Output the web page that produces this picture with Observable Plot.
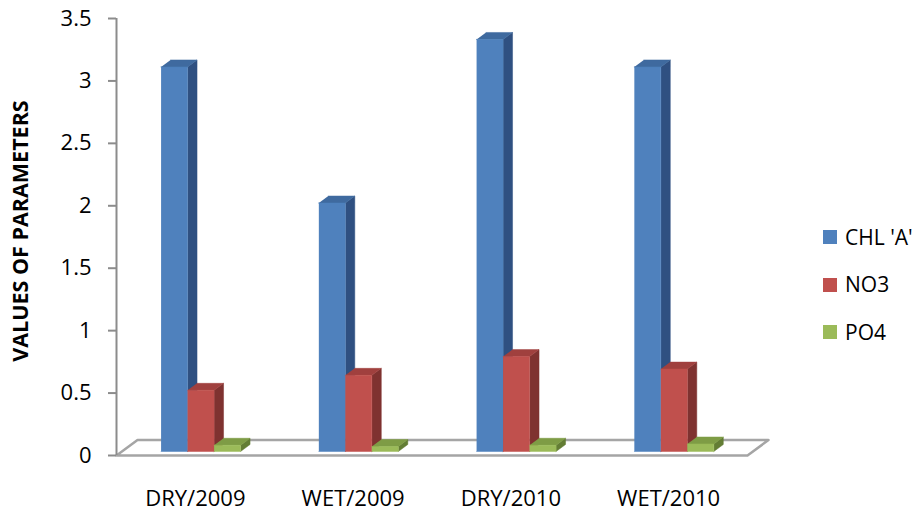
<!DOCTYPE html>
<html>
<head>
<meta charset="utf-8">
<script src="https://cdn.jsdelivr.net/npm/d3@7"></script>
<script src="https://cdn.jsdelivr.net/npm/@observablehq/plot@0.6"></script>
<style>
  body { margin: 0; background: #fff; }
  #chart { position: relative; width: 922px; height: 512px; font-family: "Open Sans", sans-serif; }
  #chart svg { position: absolute; left: 0; top: 0; }
  .item { position: absolute; left: 823px; display: flex; align-items: center; white-space: nowrap; font-size: 21px; color: #000; line-height: 1; }
  .swatch { width: 14px; height: 14px; margin-right: 8px; flex: none; }
</style>
</head>
<body>
<div id="chart"></div>
<script>
// Seasonal values of the water-quality parameters
const seasons = ["DRY/2009", "WET/2009", "DRY/2010", "WET/2010"];
const parameters = ["CHL 'A'", "NO3", "PO4"];
const chlA = [3.08, 1.99, 3.30, 3.08];
const no3  = [0.49, 0.61, 0.76, 0.66];
const po4  = [0.05, 0.04, 0.05, 0.06];
const yTicks = [0, 0.5, 1, 1.5, 2, 2.5, 3, 3.5];
const yTickLabels = ["0", "0.5", "1", "1.5", "2", "2.5", "3", "3.5"];

const series = [chlA, no3, po4];
const frontColors = ["#4F81BD", "#C0504D", "#9BBB59"];
const topColors   = ["#3F6A9F", "#A0403E", "#7E9C45"];
const sideColors  = ["#2F5081", "#7F3230", "#637D34"];

// Oblique 3D projection: depth d in [0, 1] shifts points right and up
const width = 922, height = 512;
const marginLeft = 116, marginRight = 175, marginTop = 18, marginBottom = 57;
const pxPerX = (width - marginLeft - marginRight) / seasons.length;
const pxPerY = (height - marginTop - marginBottom) / 3.5;
const DX = 21 / pxPerX, DY = 15.5 / pxPerY;
const d0 = 0.26, d1 = 0.71;          // depth extent of the columns
const barW = 26.5 / pxPerX;          // column width in category units
const groupW = barW * parameters.length;
const tickLen = 8 / pxPerX;

const proj = (x, y, d, id) => ({x: x + d * DX, y: y + d * DY, id});

// Build face polygons for every column
const faces = {front: [[], [], []], side: [[], [], []], top: [[], [], []]};
seasons.forEach((s, g) => {
  series.forEach((vals, p) => {
    const v = vals[g];
    const id = `${g}-${p}`;
    const x0 = g + 0.5 - groupW / 2 + p * barW, x1 = x0 + barW;
    faces.front[p].push(proj(x0, 0, d0, id), proj(x1, 0, d0, id), proj(x1, v, d0, id), proj(x0, v, d0, id));
    faces.side[p].push(proj(x1, 0, d0, id), proj(x1, 0, d1, id), proj(x1, v, d1, id), proj(x1, v, d0, id));
    faces.top[p].push(proj(x0, v, d0, id), proj(x1, v, d0, id), proj(x1, v, d1, id), proj(x0, v, d1, id));
  });
});

const floor = [proj(0, 0, 0), proj(seasons.length, 0, 0), proj(seasons.length, 0, 1), proj(0, 0, 1), proj(0, 0, 0)];

const faceMarks = [];
[["side", sideColors], ["top", topColors], ["front", frontColors]].forEach(([face, colors]) => {
  faces[face].forEach((pts, p) => {
    faceMarks.push(Plot.line(pts, {x: "x", y: "y", z: "id", fill: colors[p], stroke: colors[p], strokeWidth: 0.5}));
  });
});

const plot = Plot.plot({
  width, height, marginLeft, marginRight, marginTop, marginBottom,
  style: {fontFamily: "'Open Sans', sans-serif", background: "transparent", overflow: "visible"},
  x: {domain: [0, seasons.length], axis: null},
  y: {domain: [0, 3.5], axis: null},
  marks: [
    Plot.line(floor, {x: "x", y: "y", stroke: "#A5A5A5", strokeWidth: 2.5}),
    ...faceMarks,
    Plot.ruleX([0], {y1: 0, y2: 3.5, stroke: "#8C8C8C", strokeWidth: 2}),
    Plot.ruleY(yTicks, {x1: -tickLen, x2: 0, stroke: "#8C8C8C", strokeWidth: 2}),
    Plot.text(yTicks, {x: 0, y: d => d, text: yTickLabels, textAnchor: "end", dx: -25, fontSize: 22, fill: "#000"}),
    Plot.text(seasons, {x: (d, i) => i + 0.5, y: 0, text: d => d, dy: 43, fontSize: 22, fill: "#000"}),
    Plot.text(["VALUES OF PARAMETERS"], {frameAnchor: "left", textAnchor: "middle", dx: -95, dy: -6, rotate: -90, fontSize: 21.5, fontWeight: "bold", fill: "#000"})
  ]
});

const chart = document.getElementById("chart");
chart.appendChild(plot);

// Legend to the right of the plot
const legendRows = [237, 284.5, 332];
parameters.forEach((name, i) => {
  const item = document.createElement("div");
  item.className = "item";
  item.style.top = (legendRows[i] - 11) + "px";
  item.style.height = "22px";
  const sw = document.createElement("span");
  sw.className = "swatch";
  sw.style.background = frontColors[i];
  const label = document.createElement("span");
  label.textContent = name;
  item.appendChild(sw);
  item.appendChild(label);
  chart.appendChild(item);
});
</script>
</body>
</html>
